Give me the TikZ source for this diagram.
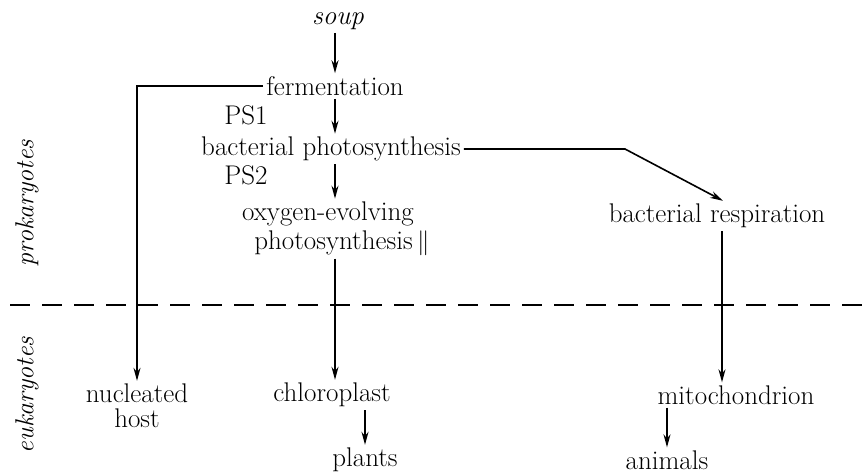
\documentclass[tikz,border=0pt]{standalone}
\usetikzlibrary{arrows.meta}
\begin{document}
\begin{tikzpicture}[x=1pt,y=-1pt,
  every node/.style={font=\fontsize{27}{25}\selectfont, inner sep=3pt},
  lbl/.style={align=center},
  side/.style={font=\fontsize{26}{25}\selectfont\itshape, rotate=90},
  conn/.style={line width=1.6pt, -{Stealth[length=13pt,width=7pt]}},
  sep/.style={line width=1.6pt, dash pattern=on 20pt off 12pt}]
\useasboundingbox (0,0) rectangle (864,473);
\node (soup) at (338,21) {\itshape soup};
\node (ferm) at (335,86) {fermentation};
\node (ps1) at (246,115) {PS1};
\node (bp) at (331,149) {bacterial photosynthesis};
\node (ps2) at (246,175) {PS2};
\node (oxyA) at (328,214) {oxygen-evolving};
\node (oxyB) at (342,243) {photosynthesis\,$\Vert$};
\node (resp) at (717,216) {bacterial respiration};
\node (nuc) at (137,406) [lbl] {nucleated\\host};
\node (chl) at (332,395) {chloroplast};
\node (mito) at (736,395) {mitochondrion};
\node (plants) at (365,460) {plants};
\node (animals) at (667,460) {animals};
\node (prok) at (27,203) [side] {prokaryotes};
\node (euk) at (27,395) [side] {eukaryotes};
\coordinate (dl) at (10,305);
\coordinate (dr) at (864,305);
\coordinate (bend) at (625,0);
\coordinate (rx) at ([xshift=5pt]resp.south);
\draw[sep] (dl) -- (dr);
\draw[conn] (soup.south -| ferm) -- (ferm.north);
\draw[conn] (ferm.south) -- (bp.north -| ferm);
\draw[conn] (bp.south -| ferm) -- (oxyA.north -| ferm);
\draw[conn] (ferm.west) -| (nuc.north);
\draw[conn] (bp.east) -- (bp.east -| bend) -- ([xshift=6pt]resp.north);
\draw[conn] (oxyB.south -| ferm) -- (chl.north -| ferm);
\draw[conn] (rx) -- (mito.north -| rx);
\draw[conn] (chl.south -| plants) -- (plants.north);
\draw[conn] (mito.south -| animals) -- (animals.north);
\end{tikzpicture}
\end{document}
